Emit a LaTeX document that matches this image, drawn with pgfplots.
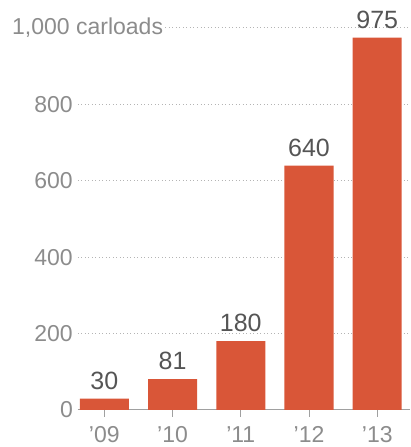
\documentclass[border=0pt]{standalone}
\usepackage{fontspec}
\setmainfont{Liberation Sans}
\usepackage{pgfplots}
\pgfplotsset{compat=1.18}
\definecolor{barc}{RGB}{217,86,56}
\definecolor{tickc}{RGB}{140,140,140}
\definecolor{valc}{RGB}{85,85,85}
\definecolor{gridc}{RGB}{180,180,180}
\definecolor{basec}{RGB}{160,160,160}
\begin{document}
\begin{tikzpicture}[x=1pt,y=1pt]
\useasboundingbox (-78,-37) rectangle (332,410);
\begin{axis}[
  at={(0,0)}, anchor=south west,
  scale only axis, width=332pt, height=382pt,
  xmin=-0.385, xmax=4.48, ymin=0, ymax=1000,
  clip=false,
  axis x line*=bottom, axis y line*=left,
  x axis line style={draw=basec, line width=1pt, -},
  y axis line style={draw=none},
  ytick={0,200,400,600,800,1000},
  yticklabels={0,200,400,600,800,{}},
  xtick={0,1,2,3,4},
  xticklabels={'09,'10,'11,'12,'13},
  tick align=outside,
  major tick length=7pt,
  xtick style={draw=basec, line width=1pt},
  ytick style={draw=none},
  ymajorgrids,
  grid style={draw=gridc, line width=1pt, dash pattern=on 1pt off 2.5pt},
  ticklabel style={font=\fontsize{23}{27}\selectfont, text=tickc},
  yticklabel style={anchor=east, inner sep=0pt, xshift=2pt},
  xticklabel style={anchor=north, inner sep=0pt, yshift=-9pt},
  ybar, bar width=49pt,
  nodes near coords={\pgfmathprintnumber[assume math mode=true]{\pgfplotspointmeta}},
  every node near coord/.style={font=\fontsize{25}{29}\selectfont, text=valc, anchor=south, inner sep=0pt, yshift=9pt},
]
\addplot[fill=barc, draw=none] coordinates {(0,30) (1,81) (2,180) (3,640) (4,975)};
\node[anchor=west, fill=white, inner sep=2pt, font=\fontsize{23}{27}\selectfont, text=tickc] at ([xshift=-68pt]rel axis cs:0,1) {1,000 carloads};
\end{axis}
\end{tikzpicture}
\end{document}
